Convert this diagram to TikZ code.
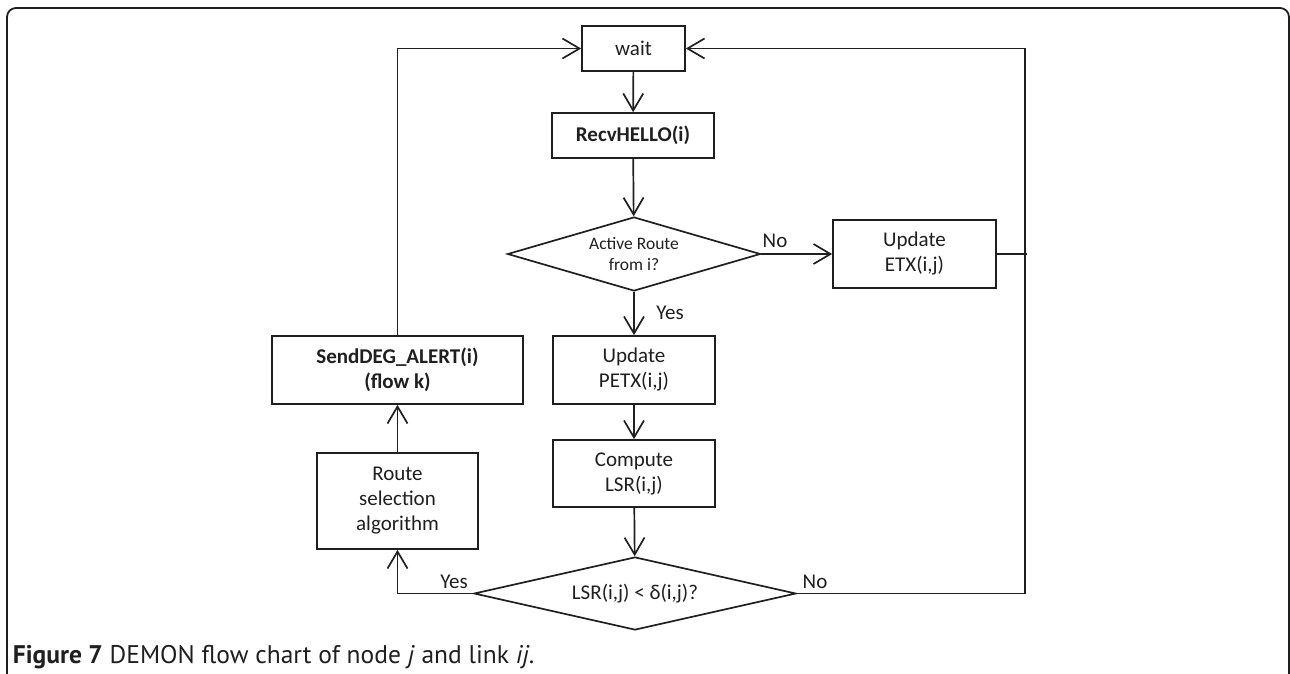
\documentclass[tikz,border=0pt]{standalone}
\usepackage{fontspec}
\setmainfont{Carlito}
\newfontfamily\capfont{PT Sans}
\usetikzlibrary{shapes.geometric,arrows.meta}

\begin{document}
\begin{tikzpicture}[x=1pt,y=-1pt,
  line width=1.7pt, color=black!88,
  box/.style={draw, rectangle, inner sep=0pt, align=center,
    font=\fontsize{21}{25}\selectfont},
  decision/.style={draw, diamond, inner sep=0pt, align=center},
  flow/.style={-{Straight Barb[length=17pt,width=20pt]}},
  lbl/.style={font=\fontsize{21}{25}\selectfont, inner sep=0pt}]

\useasboundingbox (0,0) rectangle (1290,673);

% outer panel frame
\draw[rounded corners=9pt, line width=1.8pt] (7,690) -- (7,8) -- (1289,8) -- (1289,690);

% main column
\node[box, minimum width=103pt, minimum height=45pt] (wait) at (633.5,48.5) {wait};
\node[box, minimum width=162pt, minimum height=45pt] (recv) at (633,135.5) {\bfseries RecvHELLO(i)};
\node[decision, aspect=3.4, minimum width=253pt, minimum height=74pt,
      font=\fontsize{17.5}{21.5}\selectfont] (active) at (634,254) {Active Route\\from i?};
\node[box, minimum width=163pt, minimum height=68pt] (etx) at (914.5,254) {Update\\ETX(i,j)};
\node[box, minimum width=162pt, minimum height=68pt] (petx) at (634,370) {Update\\PETX(i,j)};
\node[box, minimum width=162pt, minimum height=67pt] (comp) at (634,473.5) {Compute\\LSR(i,j)};
\node[decision, aspect=4.4, minimum width=322pt, minimum height=73pt,
      font=\fontsize{21}{25}\selectfont] (lsr) at (635,593.5) {LSR(i,j) < δ(i,j)?};

% left column
\node[box, minimum width=161pt, minimum height=96pt] (route) at (397.5,501) {Route\\selection\\algorithm};
\node[box, minimum width=251pt, minimum height=68pt] (send) at (397.5,370)
  {\bfseries SendDEG\_ALERT(i)\\\bfseries (flow k)};

% return-path corners on the right
\coordinate (rb) at (1025,593.5);
\coordinate (rt) at (1025,48.5);
\coordinate (rm) at (1027,254);

% connectors
\draw[flow] (wait) -- (recv);
\draw[flow] (recv) -- (active);
\draw[flow] (active) -- (etx);
\draw[flow] (active) -- (petx);
\draw[flow] (petx) -- (comp);
\draw[flow] (comp) -- (lsr);
\draw[flow] (lsr.west) -| (route.south);
\draw[flow] (route) -- (send);
\draw[flow] (send.north) |- (wait.west);
\draw[flow] (lsr.east) -- (rb) -- (rt) -- (wait.east);
\draw (etx.east) -- (rm);

% branch labels
\node[lbl] (noA) at (775,241) {No};
\node[lbl] (yesA) at (670,313) {Yes};
\node[lbl] (noB) at (815,582) {No};
\node[lbl] (yesB) at (454,582) {Yes};

% caption
\node[anchor=base west, inner sep=0pt, font=\capfont\fontsize{25.5}{30}\selectfont]
  (cap) at (12,663) {\textbf{Figure 7} DEMON flow chart of node \textit{j} and link \textit{ij}.};
\end{tikzpicture}
\end{document}
